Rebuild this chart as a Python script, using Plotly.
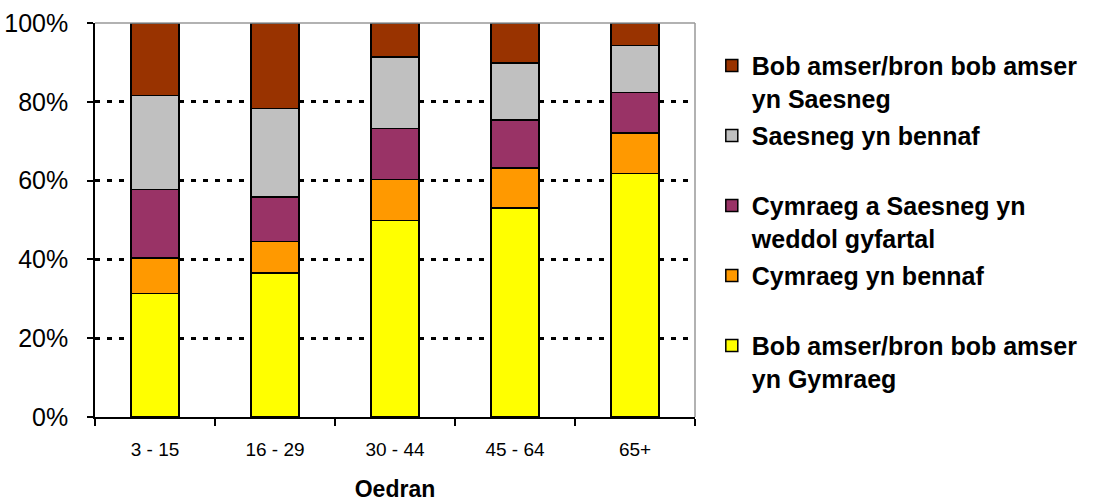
import plotly.graph_objects as go

categories = ["3 - 15", "16 - 29", "30 - 44", "45 - 64", "65+"]
series_names = [
    "Bob amser/bron bob amser<br>yn Gymraeg",
    "Cymraeg yn bennaf<br> ",
    "Cymraeg a Saesneg yn<br>weddol gyfartal",
    "Saesneg yn bennaf<br> ",
    "Bob amser/bron bob amser<br>yn Saesneg",
]
yellow_vals = [31.3, 36.6, 49.9, 53.1, 61.8]
orange_vals = [9.1, 8.0, 10.4, 10.1, 10.3]
purple_vals = [17.3, 11.2, 12.9, 12.2, 10.2]
gray_vals = [23.9, 22.5, 18.2, 14.4, 12.0]
brown_vals = [18.4, 21.7, 8.6, 10.2, 5.7]
colors = ["#FFFF00", "#FF9900", "#993366", "#C0C0C0", "#993300"]
y_ticks = [0, 20, 40, 60, 80, 100]
y_labels = [f"{v}%" for v in y_ticks]

series_vals = [yellow_vals, orange_vals, purple_vals, gray_vals, brown_vals]
n = len(series_vals)

fig = go.Figure()
for i, (name, vals, col) in enumerate(zip(series_names, series_vals, colors)):
    fig.add_trace(go.Bar(
        x=categories, y=vals, name=name, legendgroup=str(i),
        legendrank=(n - i) * 100,
        marker=dict(color=col, line=dict(color="black", width=1.5)),
    ))

W, H = 1093, 502
fig.update_layout(
    width=W, height=H,
    barmode="stack", bargap=0.6,
    plot_bgcolor="white", paper_bgcolor="white",
    margin=dict(l=95, r=398, t=23, b=85, autoexpand=False),
    font=dict(family="Liberation Sans, Arial, sans-serif", color="black"),
    legend=dict(
        traceorder="grouped", valign="top",
        x=1.028, xanchor="left", y=0.95, yanchor="top",
        font=dict(size=25, family="Liberation Sans, Arial, sans-serif", weight="bold"),
        tracegroupgap=2,
        bgcolor="rgba(0,0,0,0)",
    ),
    xaxis=dict(
        showline=True, linecolor="black", linewidth=1.5,
        ticks="outside", ticklen=7, tickwidth=1.5, tickcolor="black",
        tickson="boundaries", ticklabelstandoff=14,
        tickfont=dict(size=19),
        title=dict(text="<b>Oedran</b>", font=dict(size=23), standoff=25),
    ),
    yaxis=dict(
        range=[0, 100], tickmode="array", tickvals=y_ticks, ticktext=y_labels,
        showline=True, linecolor="black", linewidth=1.5,
        ticks="outside", ticklen=6, tickwidth=1.5, tickcolor="black",
        ticklabelstandoff=14,
        tickfont=dict(size=25),
        showgrid=True, gridcolor="black", gridwidth=2.5, griddash="5px,7px",
        zeroline=False,
    ),
    shapes=[
        dict(type="line", xref="paper", yref="paper", x0=0, x1=1, y0=1, y1=1,
             line=dict(color="#999999", width=1.5)),
        dict(type="line", xref="paper", yref="paper", x0=1, x1=1, y0=0, y1=1,
             line=dict(color="#999999", width=1.5)),
    ],
)

fig.write_html("out.html", config={"displayModeBar": False},
               post_script="document.body.style.margin='0';")
